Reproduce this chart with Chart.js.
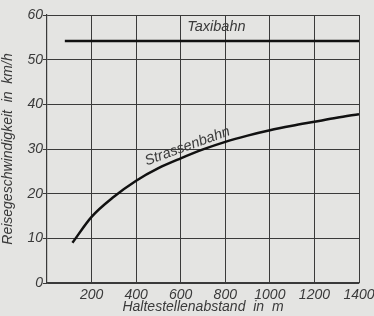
<!DOCTYPE html>
<html>
<head>
<meta charset="utf-8">
<script src="https://cdn.jsdelivr.net/npm/chart.js@4/dist/chart.umd.min.js"></script>
<style>
  html, body { margin: 0; padding: 0; background: #e4e4e2; }
  #wrap { width: 374px; height: 316px; }
</style>
</head>
<body>
<div id="wrap"><canvas id="c" width="374" height="316"></canvas></div>
<script>
// Haltestellenabstand (m) and Reisegeschwindigkeit (km/h)
const strassenbahnX = [114, 200, 300, 400, 500, 600, 700, 800, 900, 1000, 1100, 1200, 1300, 1400];
const strassenbahnY = [9.0, 14.8, 19.3, 22.9, 25.7, 27.9, 29.9, 31.6, 33.0, 34.2, 35.2, 36.1, 37.0, 37.8];
const taxibahnX = [80, 1400];
const taxibahnY = [54.2, 54.2];

const xTicks = [200, 400, 600, 800, 1000, 1200, 1400];
const yTicks = [0, 10, 20, 30, 40, 50, 60];

const ink = '#3a3a3a';
const font = { family: '"Liberation Sans", Arial, sans-serif', size: 14, style: 'italic' };

function pts(xs, ys) {
  return xs.map((x, i) => ({ x: x, y: ys[i] }));
}

// curve labels written along the lines
const labelPlugin = {
  id: 'labels',
  afterDatasetsDraw(chart) {
    const ctx = chart.ctx;
    const xs = chart.scales.x, ys = chart.scales.y;
    ctx.save();
    ctx.fillStyle = ink;
    ctx.font = 'italic 14.5px "Liberation Sans", Arial, sans-serif';
    ctx.textAlign = 'center';
    ctx.textBaseline = 'middle';
    ctx.fillText('Taxibahn', xs.getPixelForValue(760), ys.getPixelForValue(57.3));
    ctx.translate(xs.getPixelForValue(630), ys.getPixelForValue(30.6));
    ctx.rotate(-20 * Math.PI / 180);
    ctx.fillText('Strassenbahn', 0, 0);
    ctx.restore();
  }
};

new Chart(document.getElementById('c'), {
  type: 'scatter',
  data: {
    datasets: [
      {
        label: 'Taxibahn',
        data: pts(taxibahnX, taxibahnY),
        showLine: true,
        borderColor: '#111',
        borderWidth: 2.5,
        pointRadius: 0,
        tension: 0
      },
      {
        label: 'Strassenbahn',
        data: pts(strassenbahnX, strassenbahnY),
        showLine: true,
        borderColor: '#111',
        borderWidth: 2.5,
        pointRadius: 0,
        cubicInterpolationMode: 'monotone'
      }
    ]
  },
  options: {
    responsive: false,
    animation: false,
    layout: { padding: { top: 15, right: 15, left: 0, bottom: 0 } },
    plugins: { legend: { display: false }, tooltip: { enabled: false } },
    scales: {
      x: {
        type: 'linear',
        min: 0,
        max: 1400,
        afterBuildTicks(s) { s.ticks = xTicks.map(v => ({ value: v })); },
        afterFit(s) { s.height = 33; s.paddingLeft = 0; s.paddingRight = 0; },
        grid: { color: ink, lineWidth: 1, tickLength: 0, drawTicks: false },
        border: { color: ink, width: 1.2 },
        ticks: { color: ink, font: font, padding: 4, maxRotation: 0, callback: v => String(v) },
        title: { display: true, text: 'Haltestellenabstand  in  m', color: ink, font: font, padding: { top: 0, bottom: 0 } }
      },
      y: {
        min: 0,
        max: 60,
        afterBuildTicks(s) { s.ticks = yTicks.map(v => ({ value: v })); },
        afterFit(s) { s.width = 47; s.paddingTop = 0; s.paddingBottom = 0; },
        grid: { color: ink, lineWidth: 1, tickLength: 4 },
        border: { color: ink, width: 1.2 },
        ticks: { color: ink, font: font, padding: 0, callback: v => String(v) },
        title: { display: true, text: 'Reisegeschwindigkeit  in  km/h', color: ink, font: font, padding: { top: 0, bottom: 0 } }
      }
    }
  },
  plugins: [labelPlugin]
});
</script>
</body>
</html>
